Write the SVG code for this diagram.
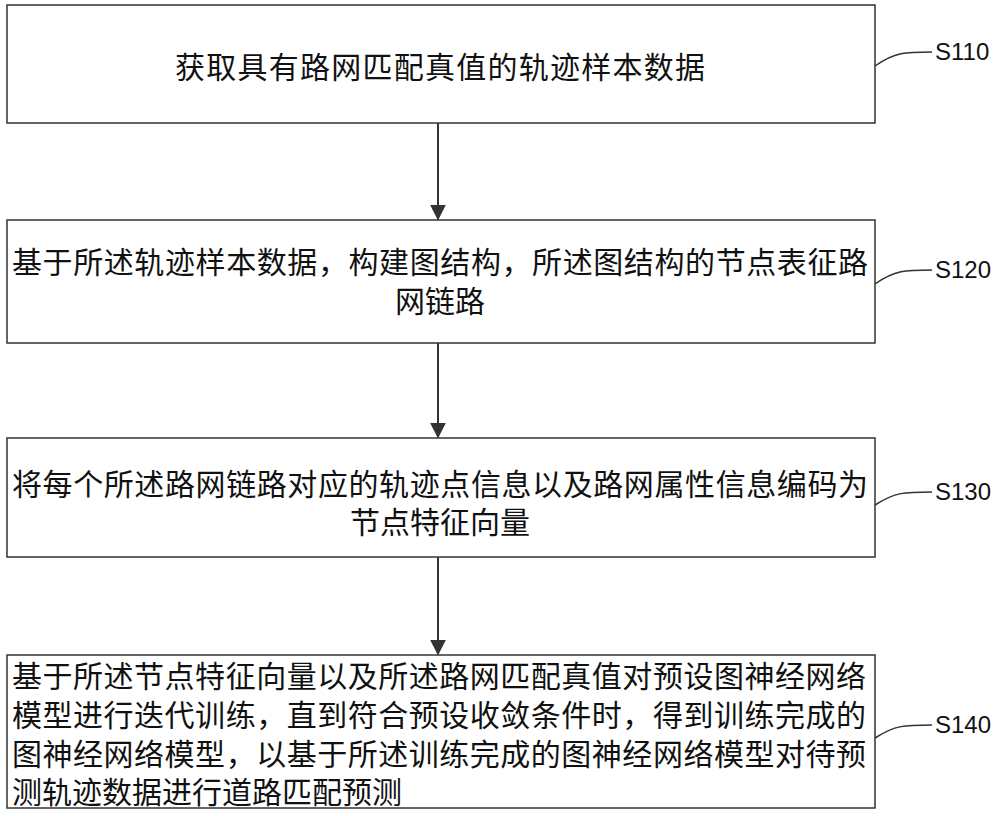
<svg xmlns="http://www.w3.org/2000/svg" width="1000" height="816" viewBox="0 0 1000 816">
<defs>
<style>
.b{fill:#fff;stroke:#333;stroke-width:1.5}
.t{font-family:"Noto Sans CJK SC","Liberation Sans",sans-serif;font-size:30px;fill:#111}
.l{font-family:"Liberation Sans",sans-serif;font-size:24px;fill:#111}
.c{fill:none;stroke:#333;stroke-width:2}
</style>
<marker id="a" viewBox="0 0 10 10" refX="9" refY="5" markerWidth="7" markerHeight="7" markerUnits="userSpaceOnUse" orient="auto"><path d="M0,0L10,5L0,10z" fill="#333"/></marker>
<marker id="b" viewBox="0 0 10 10" refX="9" refY="5" markerWidth="16" markerHeight="16" markerUnits="userSpaceOnUse" orient="auto"><path d="M0,0L10,5L0,10z" fill="#333"/></marker>
</defs>
<rect width="1000" height="816" fill="#fff"/>
<g id="n1"><rect class="b" x="7" y="5" width="868" height="118"/><text class="t" x="440" y="78" text-anchor="middle" textLength="530" lengthAdjust="spacing">获取具有路网匹配真值的轨迹样本数据</text></g>
<g id="n2"><rect class="b" x="7" y="220" width="868" height="123"/><text class="t" x="12" y="273" textLength="856" lengthAdjust="spacing">基于所述轨迹样本数据，构建图结构，所述图结构的节点表征路</text><text class="t" x="440" y="312" text-anchor="middle">网链路</text></g>
<g id="n3"><rect class="b" x="7" y="438" width="868" height="119"/><text class="t" x="12" y="495" textLength="856" lengthAdjust="spacing">将每个所述路网链路对应的轨迹点信息以及路网属性信息编码为</text><text class="t" x="440" y="533" text-anchor="middle">节点特征向量</text></g>
<g id="n4"><rect class="b" x="7" y="655" width="868" height="153"/>
<text class="t" x="12" y="687" textLength="854" lengthAdjust="spacing">基于所述节点特征向量以及所述路网匹配真值对预设图神经网络</text>
<text class="t" x="12" y="726" textLength="854" lengthAdjust="spacing">模型进行迭代训练，直到符合预设收敛条件时，得到训练完成的</text>
<text class="t" x="12" y="765" textLength="854" lengthAdjust="spacing">图神经网络模型，以基于所述训练完成的图神经网络模型对待预</text>
<text class="t" x="12" y="803">测轨迹数据进行道路匹配预测</text></g>
<g id="labels">
<text class="l" x="935" y="60">S110</text><text class="l" x="935" y="278">S120</text><text class="l" x="935" y="500">S130</text><text class="l" x="935" y="733">S140</text>
</g>
<g id="connectors">
<path class="c" d="M438,123V219" marker-end="url(#b)"/>
<path class="c" d="M438,343V437" marker-end="url(#b)"/>
<path class="c" d="M438,557V654" marker-end="url(#b)"/>
<path class="c" style="stroke-width:1.5" d="M875,66C895,52 905,52 932,52"/>
<path class="c" style="stroke-width:1.5" d="M875,284C895,270 905,270 932,270"/>
<path class="c" style="stroke-width:1.5" d="M875,505C895,492 905,492 932,492"/>
<path class="c" style="stroke-width:1.5" d="M875,738C895,725 905,725 932,725"/>
</g>
</svg>
